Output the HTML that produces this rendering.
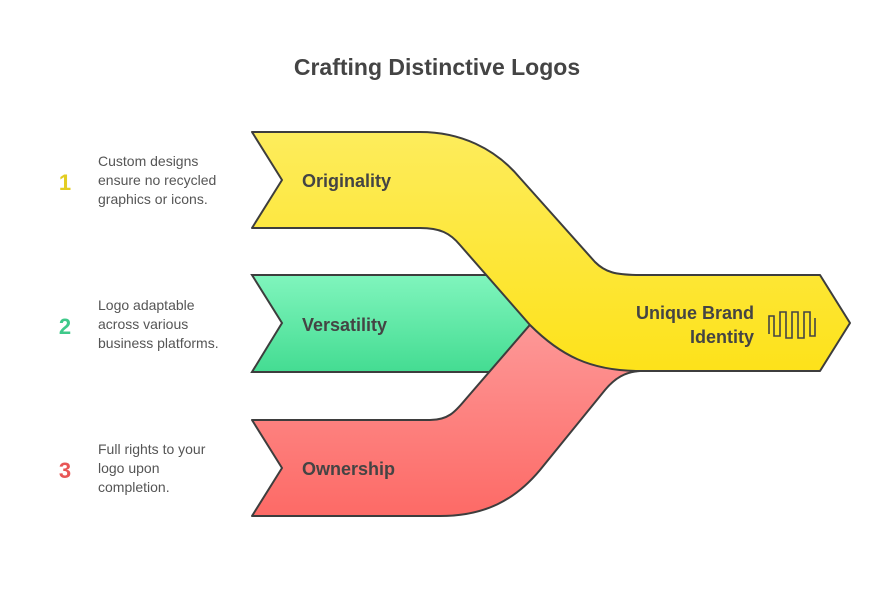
<!DOCTYPE html>
<html><head><meta charset="utf-8"><style>
body{margin:0;background:#fff;}
svg{display:block;font-family:"Liberation Sans",sans-serif;}
</style></head><body>
<svg width="875" height="612" viewBox="0 0 875 612" xmlns="http://www.w3.org/2000/svg">
<defs>
<linearGradient id="gy" x1="0" y1="0" x2="0" y2="1"><stop offset="0" stop-color="#fdec5c"/><stop offset="1" stop-color="#fde21a"/></linearGradient>
<linearGradient id="gg" x1="0" y1="0" x2="0" y2="1"><stop offset="0" stop-color="#80f5bd"/><stop offset="1" stop-color="#44dc92"/></linearGradient>
<linearGradient id="gr" x1="0" y1="0" x2="0" y2="1"><stop offset="0" stop-color="#fda0a0"/><stop offset="1" stop-color="#fd6a66"/></linearGradient>
</defs>
<text x="437" y="75" text-anchor="middle" font-size="23" font-weight="bold" fill="#444">Crafting Distinctive Logos</text>

<path d="M252,275 L520,275 L530,323 L520,372 L252,372 L282,323 Z" fill="url(#gg)" stroke="#3d3d3d" stroke-width="2"/>
<path d="M252,420 L430,420 C448,420 455,412 465,400 L560,290 L660,290 L660,371 L640,371 C625,372 615,378 605,390 L540,470 C515,500 485,516 440,516 L252,516 L282,468 Z" fill="url(#gr)" stroke="#3d3d3d" stroke-width="2" stroke-linejoin="round"/>
<path d="M252,132 L420,132 C460,132 495,148 520,178 L595,262 C605,272 615,275 640,275 L820,275 L850,323 L820,371 L640,371 C590,371 560,355 530,325 L460,245 C450,233 440,228 420,228 L252,228 L282,180 Z" fill="url(#gy)" stroke="#3d3d3d" stroke-width="2" stroke-linejoin="round"/>

<text x="302" y="187" font-size="18" font-weight="bold" fill="#444">Originality</text>
<text x="302" y="331" font-size="18" font-weight="bold" fill="#444">Versatility</text>
<text x="302" y="475" font-size="18" font-weight="bold" fill="#444">Ownership</text>
<text x="754" y="319" text-anchor="end" font-size="18" font-weight="bold" fill="#444">Unique Brand</text>
<text x="754" y="343" text-anchor="end" font-size="18" font-weight="bold" fill="#444">Identity</text>
<path d="M769,334 L769,316 L774,316 L774,336 L780,336 L780,312 L786,312 L786,338 L792,338 L792,312 L798,312 L798,338 L804,338 L804,312 L810,312 L810,336 L815,336 L815,318" fill="none" stroke="#444" stroke-width="1.6"/>

<text x="65" y="190" text-anchor="middle" font-size="22" font-weight="bold" fill="#e3cd22">1</text>
<text x="65" y="334" text-anchor="middle" font-size="22" font-weight="bold" fill="#3fc98a">2</text>
<text x="65" y="478" text-anchor="middle" font-size="22" font-weight="bold" fill="#e85656">3</text>
<g font-size="14" fill="#555">
<text x="98" y="166">Custom designs</text><text x="98" y="185">ensure no recycled</text><text x="98" y="204">graphics or icons.</text>
<text x="98" y="310">Logo adaptable</text><text x="98" y="329">across various</text><text x="98" y="348">business platforms.</text>
<text x="98" y="454">Full rights to your</text><text x="98" y="473">logo upon</text><text x="98" y="492">completion.</text>
</g>
</svg>
</body></html>
